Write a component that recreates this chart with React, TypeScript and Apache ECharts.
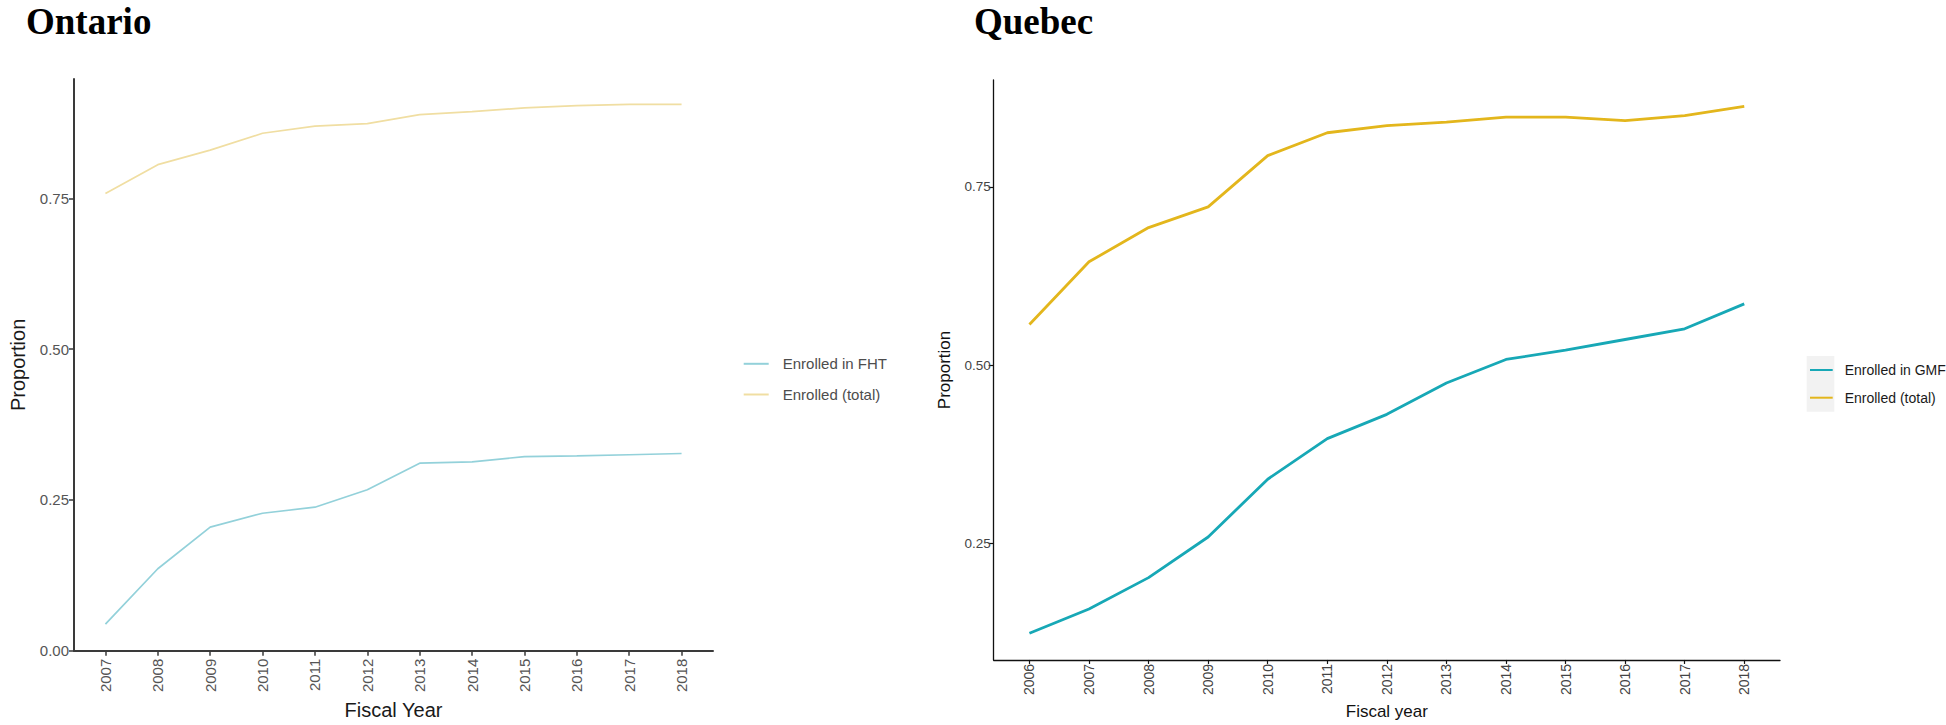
import React, { useEffect, useRef } from "react";
import * as echarts from "echarts";

// ---------- Data ----------
const ontarioYears = [2007, 2008, 2009, 2010, 2011, 2012, 2013, 2014, 2015, 2016, 2017, 2018];
const ontarioFHT = [0.044, 0.136, 0.205, 0.228, 0.238, 0.267, 0.311, 0.313, 0.322, 0.323, 0.325, 0.327];
const ontarioTotal = [0.758, 0.806, 0.83, 0.858, 0.87, 0.874, 0.889, 0.894, 0.9, 0.904, 0.906, 0.906];

const quebecYears = [2006, 2007, 2008, 2009, 2010, 2011, 2012, 2013, 2014, 2015, 2016, 2017, 2018];
const quebecGMF = [0.124, 0.158, 0.202, 0.259, 0.34, 0.397, 0.431, 0.475, 0.508, 0.521, 0.536, 0.551, 0.586];
const quebecTotal = [0.557, 0.645, 0.693, 0.722, 0.794, 0.826, 0.836, 0.841, 0.848, 0.848, 0.843, 0.85, 0.863];

const ontarioYTicks = [0, 0.25, 0.5, 0.75];
const quebecYTicks = [0.25, 0.5, 0.75];

const ontarioNames = ["Enrolled in FHT", "Enrolled (total)"];
const quebecNames = ["Enrolled in GMF", "Enrolled (total)"];

// ---------- Styles ----------
const SANS = "'Liberation Sans', Arial, Helvetica, sans-serif";
const SERIF = "'Liberation Serif', 'Times New Roman', serif";
const OFF = 915; // left offset of the Quebec chart container

const pairs = (xs: number[], ys: number[]) => xs.map((x, i) => [x, ys[i]]);

function titleText(text: string, x: number): any {
  return {
    type: "text",
    x,
    y: 21.5,
    style: {
      text,
      font: `bold 37px ${SERIF}`,
      fill: "#000000",
      align: "left",
      verticalAlign: "middle",
    },
  };
}

function ontarioOption(): any {
  const axisColor = "#3a3a3a";
  return {
    animation: false,
    backgroundColor: "#ffffff",
    graphic: [titleText("Ontario", 26)],
    legend: {
      data: ontarioNames,
      orient: "vertical",
      left: 742.7,
      top: 356.3,
      padding: 0,
      itemWidth: 25,
      itemHeight: 16,
      itemGap: 15.7,
      itemStyle: { opacity: 0 },
      textStyle: { fontSize: 15, color: "#4d4d4d", fontFamily: SANS, padding: [0, 0, 0, 9] },
    },
    grid: { left: 66, top: 79, width: 647, height: 574 },
    xAxis: {
      type: "value",
      min: 2006.4,
      max: 2018.6,
      splitLine: { show: false },
      axisLine: { show: true, onZero: false, lineStyle: { color: axisColor, width: 2 } },
      axisTick: { show: true, customValues: ontarioYears, length: 5, lineStyle: { color: axisColor, width: 1.5 } },
      axisLabel: {
        customValues: ontarioYears,
        rotate: 90,
        margin: 8,
        fontSize: 15,
        color: "#555555",
        fontFamily: SANS,
        formatter: (v: number) => String(v),
      },
      name: "Fiscal Year",
      nameLocation: "middle",
      nameGap: 47,
      nameTextStyle: { fontSize: 20, color: "#1a1a1a", fontFamily: SANS },
    },
    yAxis: {
      type: "value",
      min: 0,
      max: 0.948,
      splitLine: { show: false },
      axisLine: { show: true, onZero: false, lineStyle: { color: axisColor, width: 2 } },
      axisTick: { show: true, customValues: ontarioYTicks, length: 5, lineStyle: { color: axisColor, width: 1.5 } },
      axisLabel: {
        customValues: ontarioYTicks,
        margin: 5,
        fontSize: 15,
        color: "#555555",
        fontFamily: SANS,
        formatter: (v: number) => v.toFixed(2),
      },
      name: "Proportion",
      nameLocation: "middle",
      nameGap: 46,
      nameTextStyle: { fontSize: 20, color: "#1a1a1a", fontFamily: SANS },
    },
    series: [
      {
        type: "line",
        name: ontarioNames[0],
        data: pairs(ontarioYears, ontarioFHT),
        symbol: "none",
        lineStyle: { color: "#93d1da", width: 1.7 },
        itemStyle: { color: "#93d1da" },
      },
      {
        type: "line",
        name: ontarioNames[1],
        data: pairs(ontarioYears, ontarioTotal),
        symbol: "none",
        lineStyle: { color: "#f0dea2", width: 1.7 },
        itemStyle: { color: "#f0dea2" },
      },
    ],
  };
}

function quebecOption(): any {
  const axisColor = "#111111";
  return {
    animation: false,
    backgroundColor: "#ffffff",
    graphic: [
      titleText("Quebec", 974 - OFF),
      {
        type: "rect",
        z: -1,
        shape: { x: 1806.7 - OFF, y: 356, width: 27.6, height: 55.7 },
        style: { fill: "#f2f2f2" },
      },
    ],
    legend: {
      data: quebecNames,
      orient: "vertical",
      left: 1809 - OFF,
      top: 363,
      padding: 0,
      itemWidth: 22.7,
      itemHeight: 14,
      itemGap: 13.7,
      itemStyle: { opacity: 0 },
      textStyle: { fontSize: 14, color: "#1a1a1a", fontFamily: SANS, padding: [0, 0, 0, 7] },
    },
    grid: { left: 993.7 - OFF, top: 80, width: 786.3, height: 581.7 },
    xAxis: {
      type: "value",
      min: 2005.4,
      max: 2018.6,
      splitLine: { show: false },
      axisLine: { show: true, onZero: false, lineStyle: { color: axisColor, width: 1.3 } },
      axisTick: { show: true, customValues: quebecYears, length: 4, lineStyle: { color: axisColor, width: 1.2 } },
      axisLabel: {
        customValues: quebecYears,
        rotate: 90,
        margin: 4,
        fontSize: 14,
        color: "#444444",
        fontFamily: SANS,
        formatter: (v: number) => String(v),
      },
      name: "Fiscal year",
      nameLocation: "middle",
      nameGap: 42,
      nameTextStyle: { fontSize: 17, color: "#111111", fontFamily: SANS },
    },
    yAxis: {
      type: "value",
      min: 0.0865,
      max: 0.9,
      splitLine: { show: false },
      axisLine: { show: true, onZero: false, lineStyle: { color: axisColor, width: 1.3 } },
      axisTick: { show: true, customValues: quebecYTicks, length: 5, lineStyle: { color: axisColor, width: 1.2 } },
      axisLabel: {
        customValues: quebecYTicks,
        margin: 3,
        fontSize: 13.5,
        color: "#444444",
        fontFamily: SANS,
        formatter: (v: number) => v.toFixed(2),
      },
      name: "Proportion",
      nameLocation: "middle",
      nameGap: 41,
      nameTextStyle: { fontSize: 17, color: "#111111", fontFamily: SANS },
    },
    series: [
      {
        type: "line",
        name: quebecNames[0],
        data: pairs(quebecYears, quebecGMF),
        symbol: "none",
        lineStyle: { color: "#17a8b6", width: 2.8 },
        itemStyle: { color: "#17a8b6" },
      },
      {
        type: "line",
        name: quebecNames[1],
        data: pairs(quebecYears, quebecTotal),
        symbol: "none",
        lineStyle: { color: "#e3b61c", width: 2.8 },
        itemStyle: { color: "#e3b61c" },
      },
    ],
  };
}

export default function App() {
  const leftRef = useRef<HTMLDivElement>(null);
  const rightRef = useRef<HTMLDivElement>(null);

  useEffect(() => {
    const a = echarts.init(leftRef.current as HTMLDivElement, null, { renderer: "svg" });
    a.setOption(ontarioOption());
    const b = echarts.init(rightRef.current as HTMLDivElement, null, { renderer: "svg" });
    b.setOption(quebecOption());
    return () => {
      a.dispose();
      b.dispose();
    };
  }, []);

  return (
    <div style={{ position: "fixed", left: 0, top: 0, width: 1946, height: 725, background: "#ffffff" }}>
      <div ref={leftRef} style={{ position: "absolute", left: 0, top: 0, width: OFF, height: 725 }} />
      <div ref={rightRef} style={{ position: "absolute", left: OFF, top: 0, width: 1946 - OFF, height: 725 }} />
    </div>
  );
}
